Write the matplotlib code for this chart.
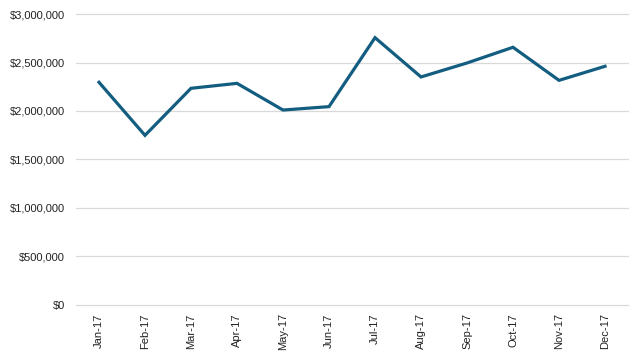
import matplotlib
matplotlib.use("Agg")
import matplotlib.pyplot as plt
from matplotlib.ticker import FuncFormatter

# Monthly totals, 2017
months = ["Jan-17", "Feb-17", "Mar-17", "Apr-17", "May-17", "Jun-17",
          "Jul-17", "Aug-17", "Sep-17", "Oct-17", "Nov-17", "Dec-17"]
values = [2296000, 1749000, 2234000, 2285000, 2010000, 2045000,
          2756000, 2351000, 2495000, 2657000, 2316000, 2461000]
yticks = [0, 500000, 1000000, 1500000, 2000000, 2500000, 3000000]


def main():
    plt.rcParams['font.family'] = ['Liberation Sans', 'DejaVu Sans']

    fig = plt.figure(figsize=(6.43, 3.6), dpi=100)
    ax = fig.add_axes([0.1182, 0.1528, 0.8585, 0.8083])

    x = list(range(len(months)))
    ax.plot(x, values, color='#135e80', linewidth=2.3, solid_joinstyle='miter')

    ax.set_xlim(-0.5, len(months) - 0.5)
    ax.set_ylim(0, 3000000)
    ax.set_yticks(yticks)
    ax.yaxis.set_major_formatter(FuncFormatter(lambda v, p: "${:,.0f}".format(v)))
    ax.set_xticks(x)
    ax.set_xticklabels(months, rotation=90)

    ax.grid(axis='y', color='#d9d9d9', linewidth=0.9)
    for gl in ax.get_ygridlines():
        gl.set_clip_on(False)
    ax.set_axisbelow(True)
    for side in ['top', 'right', 'left', 'bottom']:
        ax.spines[side].set_visible(False)
    ax.tick_params(axis='both', length=0, labelsize=8, colors='#222222')
    ax.tick_params(axis='y', pad=8)
    ax.tick_params(axis='x', pad=6)

    fig.savefig('out.png', dpi=100)


if __name__ == "__main__":
    main()
